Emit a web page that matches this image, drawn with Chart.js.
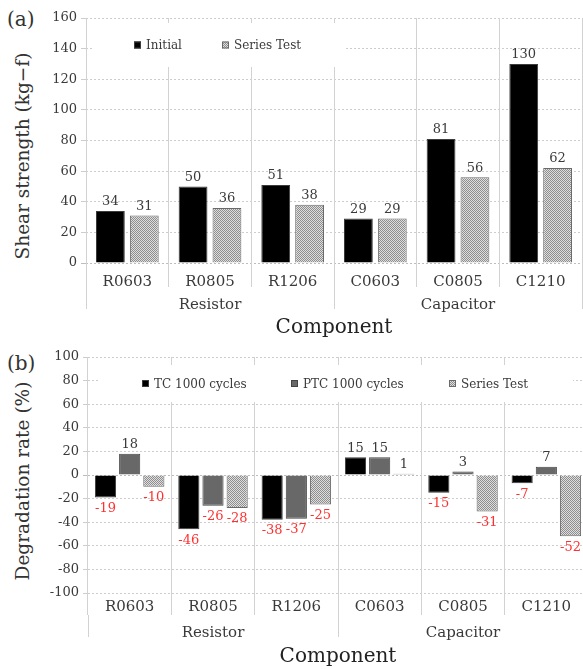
<!DOCTYPE html>
<html>
<head>
<meta charset="utf-8">
<script src="https://cdn.jsdelivr.net/npm/chart.js@4.4.0/dist/chart.umd.min.js"></script>
<style>
  body { margin: 0; background: #fff; overflow: hidden; width: 583px; height: 669px; position: relative; }
  canvas { position: absolute; left: 0; }
  .lbl { position: absolute; font-family: 'DejaVu Serif'; color: #333; white-space: nowrap; }
  .ytitle { transform: translate(-50%, -50%) rotate(-90deg); }
</style>
</head>
<body>
<div class="lbl" style="left:7px;top:7px;font-size:20px">(a)</div>
<div class="lbl ytitle" style="left:22px;top:156px;font-size:18.5px">Shear strength (kg−f)</div>
<canvas id="chartA" style="top:0" width="583" height="340"></canvas>

<div class="lbl" style="left:7px;top:351px;font-size:20px">(b)</div>
<div class="lbl ytitle" style="left:22px;top:481px;font-size:18.5px">Degradation rate (%)</div>
<canvas id="chartB" style="top:340px" width="590" height="329"></canvas>

<script>
const components = ['R0603', 'R0805', 'R1206', 'C0603', 'C0805', 'C1210'];
const groups = ['Resistor', 'Capacitor'];

// (a) shear strength, kg-f
const initialStrength = [34, 50, 51, 29, 81, 130];
const seriesTestStrength = [31, 36, 38, 29, 56, 62];

// (b) degradation rate, %
const tcRate = [-19, -46, -38, 15, -15, -7];
const ptcRate = [18, -26, -37, 15, 3, 7];
const seriesTestRate = [-10, -28, -25, 1, -31, -52];

const FONT = 'DejaVu Serif';
const TEXT = '#3a3a3a';

// grey dotted fill used for the "Series Test" bars
function dotPattern() {
  const c = document.createElement('canvas');
  c.width = 2; c.height = 2;
  const g = c.getContext('2d');
  g.fillStyle = '#dedede';
  g.fillRect(0, 0, 2, 2);
  g.fillStyle = '#8e8e8e';
  g.fillRect(0, 0, 1, 1);
  g.fillRect(1, 1, 1, 1);
  return g.createPattern(c, 'repeat');
}
const dots = dotPattern();

// legend drawn inside the plot on a white box
function boxLegend(cfg) {
  return {
    id: 'boxLegend',
    beforeDatasetsDraw(chart) {
      const ctx = chart.ctx;
      ctx.save();
      ctx.fillStyle = '#fff';
      ctx.fillRect(cfg.x, cfg.y, cfg.w, cfg.h);
      ctx.font = '12px "' + FONT + '"';
      ctx.textBaseline = 'middle';
      const cy = cfg.y + cfg.h / 2;
      chart.data.datasets.forEach((ds, i) => {
        const x = cfg.items[i];
        ctx.fillStyle = ds.backgroundColor;
        ctx.fillRect(x, cy - 3.5, 7, 7);
        ctx.strokeStyle = ds.borderColor;
        ctx.lineWidth = 1;
        ctx.strokeRect(x + 0.5, cy - 3, 6, 6);
        ctx.fillStyle = TEXT;
        ctx.fillText(ds.label, x + 12, cy + 1);
      });
      ctx.restore();
    }
  };
}

// numbers on the bars, red when negative
const valueLabels = {
  id: 'valueLabels',
  afterDatasetsDraw(chart) {
    const ctx = chart.ctx;
    ctx.save();
    ctx.font = '13px "' + FONT + '"';
    ctx.textAlign = 'center';
    ctx.textBaseline = 'middle';
    chart.data.datasets.forEach((ds, i) => {
      chart.getDatasetMeta(i).data.forEach((bar, j) => {
        const v = ds.data[j];
        const neg = v < 0;
        ctx.fillStyle = neg ? '#ff3030' : TEXT;
        ctx.fillText(String(v), bar.x, neg ? bar.y + 11 : bar.y - 9);
      });
    });
    ctx.restore();
  }
};

function scalesFor(opts) {
  return {
    y: {
      min: opts.min, max: opts.max,
      afterFit: s => { s.width = opts.left; },
      ticks: { stepSize: 20, padding: 4, color: TEXT, font: { family: FONT, size: 13 } },
      grid: {
        color: c => (c.tick && c.tick.value === 0) ? '#bdbdbd' : '#cdcdcd',
        tickLength: 5
      },
      border: { display: false, dash: [2, 2] }
    },
    x: {
      type: 'category',
      offset: true,
      weight: 0,
      afterFit: s => { s.height = opts.xH; },
      grid: { offset: true, color: '#d2d2d2', tickLength: opts.xH },
      border: { display: false },
      ticks: { padding: opts.xPad, maxRotation: 0, autoSkip: false, color: TEXT, font: { family: FONT, size: 15 } }
    },
    x2: {
      type: 'category',
      position: 'bottom',
      labels: groups,
      offset: true,
      weight: 1,
      afterFit: s => { s.height = opts.x2H; },
      grid: { offset: true, drawOnChartArea: false, color: '#d2d2d2', tickLength: 22 },
      border: { display: false },
      ticks: { padding: -13, maxRotation: 0, color: TEXT, font: { family: FONT, size: 15 } },
      title: { display: true, text: 'Component', color: '#222', padding: 0, font: { family: FONT, size: 20 } }
    }
  };
}

new Chart(document.getElementById('chartA'), {
  type: 'bar',
  data: {
    labels: components,
    datasets: [
      { label: 'Initial', data: initialStrength, backgroundColor: '#000', borderColor: '#3c3c3c', borderWidth: 1 },
      { label: 'Series Test', data: seriesTestStrength, backgroundColor: dots, borderColor: '#6a6a6a', borderWidth: 1 }
    ]
  },
  options: {
    responsive: false,
    animation: false,
    categoryPercentage: 0.82,
    barPercentage: 0.85,
    layout: { padding: { top: 18, right: 1, left: 0, bottom: 0 } },
    plugins: { legend: { display: false }, tooltip: { enabled: false } },
    scales: scalesFor({ min: 0, max: 160, left: 86, xH: 24, xPad: -14, x2H: 53 })
  },
  plugins: [boxLegend({ x: 92, y: 23, w: 253, h: 44, items: [134, 222] }), valueLabels]
});

new Chart(document.getElementById('chartB'), {
  type: 'bar',
  data: {
    labels: components,
    datasets: [
      { label: 'TC 1000 cycles', data: tcRate, backgroundColor: '#000', borderColor: '#3c3c3c', borderWidth: 1 },
      { label: 'PTC 1000 cycles', data: ptcRate, backgroundColor: '#686868', borderColor: '#444', borderWidth: 1 },
      { label: 'Series Test', data: seriesTestRate, backgroundColor: dots, borderColor: '#6a6a6a', borderWidth: 1 }
    ]
  },
  options: {
    responsive: false,
    animation: false,
    categoryPercentage: 0.87,
    barPercentage: 0.875,
    layout: { padding: { top: 17, right: 2, left: 0, bottom: 0 } },
    plugins: { legend: { display: false }, tooltip: { enabled: false } },
    scales: scalesFor({ min: -100, max: 100, left: 88, xH: 22, xPad: -17, x2H: 54 })
  },
  plugins: [boxLegend({ x: 100, y: 25, w: 473, h: 37, items: [142, 291, 449] }), valueLabels]
});
</script>
</body>
</html>
